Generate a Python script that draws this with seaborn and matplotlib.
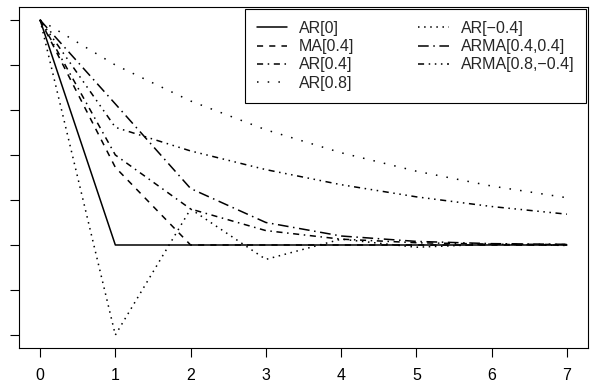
import numpy as np
import pandas as pd
import seaborn as sns
import matplotlib
matplotlib.use("Agg")
import matplotlib.pyplot as plt

lags = [0, 1, 2, 3, 4, 5, 6, 7]
ar0 = [1, 0, 0, 0, 0, 0, 0, 0]
ma04 = [1, 0.345, 0, 0, 0, 0, 0, 0]
ar04 = [1, 0.4, 0.16, 0.064, 0.026, 0.010, 0.004, 0.002]
ar08 = [1, 0.8, 0.64, 0.512, 0.41, 0.328, 0.262, 0.21]
arm04 = [1, -0.4, 0.16, -0.064, 0.026, -0.010, 0.004, -0.002]
arma0404 = [1, 0.627, 0.251, 0.100, 0.040, 0.016, 0.006, 0.003]
arma08m04 = [1, 0.523, 0.418, 0.335, 0.268, 0.214, 0.171, 0.137]

labels = ["AR[0]", "MA[0.4]", "AR[0.4]", "AR[0.8]", "AR[\u22120.4]",
          "ARMA[0.4,0.4]", "ARMA[0.8,\u22120.4]"]
series = [ar0, ma04, ar04, ar08, arm04, arma0404, arma08m04]
styles = ["-", (0, (4, 4)), (0, (4, 3, 1, 3)), (0, (1, 6)), (0, (1, 3)),
          (0, (7, 3, 1, 3)), (0, (4, 3, 1, 3, 1, 3, 1, 3))]

sns.set_style("ticks")
plt.rcParams['font.family'] = ['Liberation Sans', 'DejaVu Sans']

fig = plt.figure(figsize=(6.01, 3.86), dpi=100)
ax = fig.add_axes([19/601, 1 - 347.6/386, (588 - 19)/601, (347.6 - 7.4)/386])

for lab, vals, ls in zip(labels, series, styles):
    df = pd.DataFrame({"lag": lags, "acf": vals})
    sns.lineplot(data=df, x="lag", y="acf", ax=ax, color="black",
                 linewidth=1.1, linestyle=ls, label=lab)

ax.set_xlim(-0.28, 7.28)
ax.set_ylim(-0.456, 1.056)
ax.set_xticks(lags)
ax.set_yticks([-0.4, -0.2, 0, 0.2, 0.4, 0.6, 0.8, 1.0])
ax.set_yticklabels([])
ax.set_xlabel("")
ax.set_ylabel("")
ax.tick_params(direction="out", length=6.5, width=0.8, colors="black",
               labelsize=11.5, pad=8)
for s in ax.spines.values():
    s.set_visible(True)
    s.set_color("black")
    s.set_linewidth(0.8)

leg = ax.legend(loc="upper right", ncol=2, frameon=True, fancybox=False,
                edgecolor="black", fontsize=11.5, borderaxespad=0.1,
                handlelength=1.9, handletextpad=0.75, columnspacing=4.0,
                labelspacing=0.2, borderpad=0.75)
leg.get_frame().set_linewidth(0.8)
leg.get_frame().set_alpha(1)

fig.savefig("out.png", dpi=100)
